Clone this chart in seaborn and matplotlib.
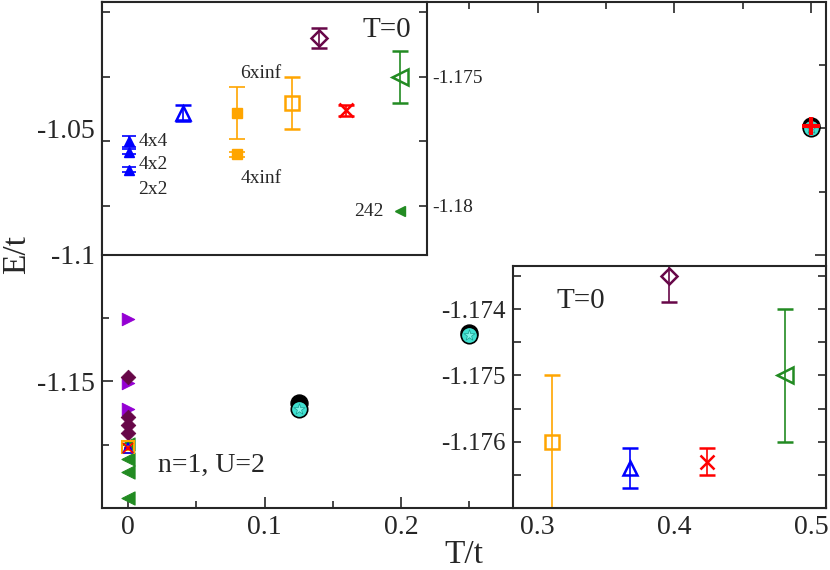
import numpy as np
import pandas as pd
import seaborn as sns
import matplotlib.pyplot as plt
from matplotlib.ticker import FixedLocator, FixedFormatter, NullFormatter

# ---- main panel: T = 0 column ----
t0_violet = [-1.1253, -1.1506, -1.1609]
t0_maroon = [-1.1482, -1.1640, -1.1672, -1.1704]
t0_green = [-1.1747, -1.1806, -1.1858, -1.1960]
t0_orange = [-1.1760]
t0_blue = [-1.1764]
t0_red = [-1.1763]

# ---- main panel: finite temperature ----
T_fin = [0.125, 0.25, 0.5]
E_black = [-1.1585, -1.1310, -1.0490]
E_cyan = [-1.1610, -1.1318, -1.0498]
T_plus = [0.5]
E_plus = [-1.0490]

# ---- top-left inset (T=0 comparison, zoomed) ----
in1_blue_x = [1, 1, 1]
in1_blue_y = [-1.1775, -1.1779, -1.1786]
in1_blue_err = [0.0002, 0.0001, 0.0001]
in1_blue_lab = ["4x4", "4x2", "2x2"]
in1_orange_x = [5, 5]
in1_orange_y = [-1.1764, -1.1780]
in1_orange_err = [0.0010, 0.0001]
in1_orange_lab = ["6xinf", "4xinf"]
in1_242_x = [11]
in1_242_y = [-1.1802]

# open symbols shared by both insets: (value, error)
E_sq, err_sq = -1.1760, 0.0010      # orange open square
E_tri, err_tri = -1.1764, 0.0003    # blue open triangle
E_dia, err_dia = -1.1735, 0.0004    # maroon diamond
E_x, err_x = -1.1763, 0.0002        # red cross
E_lt, err_lt = -1.1750, 0.0010      # green open triangle

in1_pos = [3, 7, 8, 9, 11]   # tri, sq, dia, x, lt
in2_pos = [3, 1, 4, 5, 7]

BLUE = "#0000ff"
ORANGE = "#ffa500"
MAROON = "#670748"
RED = "#ff0000"
GREEN = "#228b22"
VIOLET = "#9400d3"
TURQ = "#40e0d0"

sns.set_theme(style="ticks")
plt.rcParams["font.family"] = ["Liberation Serif", "DejaVu Serif"]
plt.rcParams["axes.unicode_minus"] = False
plt.rcParams["axes.linewidth"] = 1.5

fig = plt.figure(figsize=(8.3, 5.7), dpi=100)
ax = fig.add_axes([0.1229, 0.1088, 0.8723, 0.8877])

# T=0 points in main panel
df0 = pd.DataFrame({"T": [0.0] * 3, "E": t0_violet})
sns.scatterplot(data=df0, x="T", y="E", marker=">", color=VIOLET, s=80,
                edgecolor=VIOLET, ax=ax, zorder=3)
df0 = pd.DataFrame({"T": [0.0] * 4, "E": t0_maroon})
sns.scatterplot(data=df0, x="T", y="E", marker="D", color=MAROON, s=55,
                edgecolor=MAROON, ax=ax, zorder=3)
df0 = pd.DataFrame({"T": [0.0] * 4, "E": t0_green})
sns.scatterplot(data=df0, x="T", y="E", marker="<", color=GREEN, s=90,
                edgecolor=GREEN, ax=ax, zorder=4)
ax.errorbar([0.0], t0_orange, yerr=[0.001], fmt="s", mfc="none", mec=ORANGE,
            ms=8, mew=1.5, ecolor=ORANGE, capsize=3, zorder=5)
ax.errorbar([0.0], t0_blue, yerr=[0.0003], fmt="^", mfc="none", mec=BLUE,
            ms=7, mew=1.2, ecolor=BLUE, capsize=3, zorder=5)
ax.errorbar([0.0], t0_red, yerr=[0.0002], fmt="x", mec=RED,
            ms=7, mew=1.2, ecolor=RED, capsize=3, zorder=5)

# finite-T points
dfb = pd.DataFrame({"T": T_fin, "E": E_black})
sns.scatterplot(data=dfb, x="T", y="E", marker="o", color="black", s=150,
                edgecolor="black", ax=ax, zorder=3)
dfc = pd.DataFrame({"T": T_fin, "E": E_cyan})
sns.scatterplot(data=dfc, x="T", y="E", marker="o", color=TURQ, s=140,
                edgecolor="black", linewidth=1.2, ax=ax, zorder=4)
sns.scatterplot(data=dfc, x="T", y="E", marker="*", color="#7ff5ea", s=70,
                edgecolor="#1a9c90", linewidth=0.5, ax=ax, zorder=5)
dfp = pd.DataFrame({"T": T_plus, "E": E_plus})
sns.scatterplot(data=dfp, x="T", y="E", marker="+", color=RED, s=160,
                linewidth=3, ax=ax, zorder=6)

ax.set_xlim(-0.019, 0.511)
ax.set_ylim(-1.2, -1.0)
ax.xaxis.set_major_locator(FixedLocator([0, 0.1, 0.2, 0.3, 0.4, 0.5]))
ax.xaxis.set_major_formatter(FixedFormatter(["0", "0.1", "0.2", "0.3", "0.4", "0.5"]))
ax.xaxis.set_minor_locator(FixedLocator([0.05, 0.15, 0.25, 0.35, 0.45]))
ax.yaxis.set_major_locator(FixedLocator([-1.15, -1.1, -1.05]))
ax.yaxis.set_major_formatter(FixedFormatter(["-1.15", "-1.1", "-1.05"]))
ax.yaxis.set_minor_locator(FixedLocator([-1.2, -1.175, -1.125, -1.075, -1.025, -1.0]))
ax.tick_params(which="both", direction="in", top=True, right=True,
               labelsize=20, width=1.2, pad=5)
ax.tick_params(which="major", length=8)
ax.tick_params(which="minor", length=5)
ax.set_xlabel("T/t", fontsize=24, labelpad=0)
ax.set_ylabel("E/t", fontsize=24, labelpad=4)
ax.text(0.022, -1.183, "n=1, U=2", fontsize=20, ha="left", va="center")

# ---- top-left inset ----
ax1 = fig.add_axes([0.1229, 0.5526, 0.3916, 0.4439])
ax1.set_facecolor("white")
for xi, yi, ei in zip(in1_blue_x, in1_blue_y, in1_blue_err):
    ax1.errorbar([xi], [yi], yerr=[ei], fmt="^", color=BLUE, ms=7,
                 capsize=5, elinewidth=1.2, capthick=1.2)
for xi, yi, ei in zip(in1_orange_x, in1_orange_y, in1_orange_err):
    ax1.errorbar([xi], [yi], yerr=[ei], fmt="s", color=ORANGE, ms=7,
                 capsize=5.5, elinewidth=1.2, capthick=1.2)
ax1.errorbar(in1_242_x, in1_242_y, fmt="<", color=GREEN, ms=7)

open_y = [E_tri, E_sq, E_dia, E_x, E_lt]
open_e = [err_tri, err_sq, err_dia, err_x, err_lt]
open_m = ["^", "s", "D", "x", "<"]
open_c = [BLUE, ORANGE, MAROON, RED, GREEN]
open_ms = [10, 10, 8, 10, 11]


def draw_open(a, xs):
    for xi, yi, ei, m, c, s in zip(xs, open_y, open_e, open_m, open_c, open_ms):
        a.errorbar([xi], [yi], yerr=[ei], fmt=m, mfc="none", mec=c, ms=s,
                   mew=1.8, ecolor=c, elinewidth=1.2, capsize=5.5, capthick=1.2)


draw_open(ax1, in1_pos)
ax1.set_xlim(0, 12)
ax1.set_ylim(-1.1819, -1.1721)
ax1.set_xticks([])
ax1.yaxis.set_major_locator(FixedLocator([-1.18, -1.175]))
ax1.yaxis.set_major_formatter(FixedFormatter(["-1.18", "-1.175"]))
ax1.yaxis.set_minor_locator(FixedLocator([-1.1775, -1.1725]))
ax1.tick_params(axis="y", which="both", direction="in", left=True, right=True,
                labelleft=False, labelright=True, length=6, width=1.2,
                labelsize=14, pad=4)
for xi, yi, lab in zip([1.35, 1.35, 1.35], [-1.1775, -1.1784, -1.17938], in1_blue_lab):
    ax1.text(xi, yi, lab, fontsize=14, ha="left", va="center")
ax1.text(5.87, -1.17488, in1_orange_lab[0], fontsize=14, ha="center", va="center")
ax1.text(5.87, -1.17895, in1_orange_lab[1], fontsize=14, ha="center", va="center")
ax1.text(10.4, -1.18023, "242", fontsize=14, ha="right", va="center")
ax1.text(10.5, -1.1732, "T=0", fontsize=21, ha="center", va="center")

# ---- bottom-right inset ----
ax2 = fig.add_axes([0.618, 0.1088, 0.3772, 0.4246])
ax2.set_facecolor("white")
draw_open(ax2, in2_pos)
ax2.set_xlim(0, 8.05)
ax2.set_ylim(-1.177, -1.17335)
ax2.set_xticks([])
ax2.yaxis.set_major_locator(FixedLocator([-1.176, -1.175, -1.174]))
ax2.yaxis.set_major_formatter(FixedFormatter(["-1.176", "-1.175", "-1.174"]))
ax2.yaxis.set_minor_locator(FixedLocator([-1.1765, -1.1755, -1.1745, -1.1735]))
ax2.tick_params(axis="y", which="both", direction="in", left=True, right=True,
                labelleft=True, labelright=False, length=6, width=1.2,
                labelsize=18, pad=5)
ax2.text(1.74, -1.17388, "T=0", fontsize=21, ha="center", va="center")

fig.savefig("out.png", dpi=100)
